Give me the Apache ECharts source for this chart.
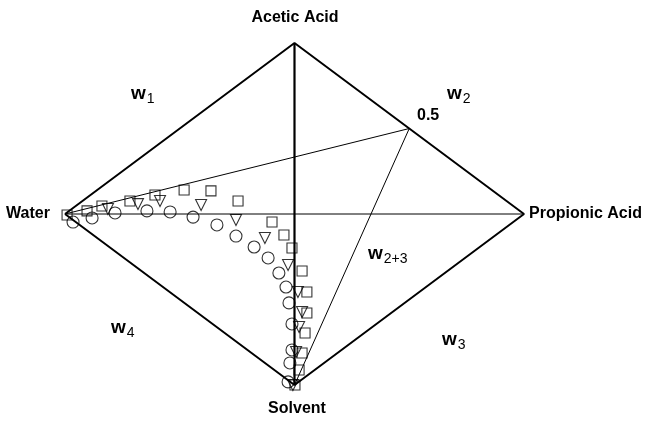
<!DOCTYPE html>
<html>
<head>
<meta charset="utf-8">
<script src="https://cdn.jsdelivr.net/npm/echarts@6/dist/echarts.min.js"></script>
<style>
  html, body { margin: 0; padding: 0; background: #fff; }
  #chart { width: 648px; height: 422px; }
</style>
</head>
<body>
<div id="chart"></div>
<script>
// diamond coords: Water (-1,0), Propionic (1,0), Acetic (0,1), Solvent (0,-1)
var vertices = {
  acetic: [0, 1],
  water: [-1, 0],
  propionic: [1, 0],
  solvent: [0, -1],
  half: [0.5, 0.5]
}

// squares
var squarePts = [
  [-0.991, -0.006], [-0.904, 0.018], [-0.839, 0.047], [-0.717, 0.076],
  [-0.608, 0.111], [-0.481, 0.140], [-0.364, 0.135], [-0.246, 0.076],
  [-0.098, -0.047], [-0.046, -0.123], [-0.011, -0.199], [0.033, -0.333],
  [0.054, -0.456], [0.054, -0.579], [0.046, -0.696], [0.033, -0.813],
  [0.020, -0.912], [0.002, -1.0]
]
// inverted triangles
var trianglePts = [
  [-0.813, 0.029], [-0.682, 0.058], [-0.586, 0.076], [-0.407, 0.053],
  [-0.255, -0.035], [-0.129, -0.140], [-0.028, -0.298], [0.015, -0.456],
  [0.033, -0.573], [0.020, -0.661], [0.007, -0.807], [-0.007, -1.0]
]
// circles
var circlePts = [
  [-0.965, -0.047], [-0.882, -0.023], [-0.782, 0.006], [-0.643, 0.018],
  [-0.542, 0.012], [-0.442, -0.018], [-0.338, -0.064], [-0.255, -0.129],
  [-0.176, -0.193], [-0.115, -0.257], [-0.068, -0.345], [-0.037, -0.427],
  [-0.024, -0.520], [-0.011, -0.643], [-0.011, -0.795], [-0.020, -0.871],
  [-0.028, -0.982]
]

var v = vertices
var chart = echarts.init(document.getElementById('chart'))

function seg (data, width) {
  return {
    type: 'line',
    data: data,
    symbol: 'none',
    silent: true,
    lineStyle: { color: '#000', width: width },
    z: 1
  }
}
function marks (data, symbol, size, rotate) {
  return {
    type: 'scatter',
    data: data,
    symbol: symbol,
    symbolSize: size,
    symbolRotate: rotate || 0,
    itemStyle: { color: 'rgba(255,255,255,0)', borderColor: '#000', borderWidth: 1.1 },
    z: 3
  }
}

var bold = 'bold 16px "Liberation Sans", Arial, sans-serif'
var rich = {
  w: { fontSize: 19, fontFamily: 'Liberation Sans', fontWeight: 'bold', color: '#000' },
  s: { fontSize: 14, fontFamily: 'Liberation Sans', color: '#000', padding: [11, 0, 0, 1] }
}
function label (x, y, txt, align) {
  return { type: 'text', x: x, y: y, style: { text: txt, font: bold, fill: '#000', align: align || 'left', verticalAlign: 'middle' } }
}
function wLabel (x, y, sub) {
  return { type: 'text', left: x, top: y, style: { text: '{w|w}{s|' + sub + '}', rich: rich } }
}

chart.setOption({
  animation: false,
  grid: { left: 65, top: 43, width: 459, height: 342 },
  xAxis: { type: 'value', min: -1, max: 1, show: false },
  yAxis: { type: 'value', min: -1, max: 1, show: false },
  series: [
    seg([v.water, v.acetic, v.propionic, v.solvent, v.water], 2),
    seg([v.acetic, v.solvent], 2.2),
    seg([v.water, v.propionic], 1),
    seg([v.water, v.half, v.solvent], 1),
    marks(squarePts, 'rect', 10),
    marks(trianglePts, 'triangle', 11, 180),
    marks(circlePts, 'circle', 12)
  ],
  graphic: [
    label(295, 18, 'Acetic Acid', 'center'),
    label(6, 214, 'Water'),
    label(529, 214, 'Propionic Acid'),
    label(297, 409, 'Solvent', 'center'),
    label(417, 116, '0.5'),
    wLabel(131, 84, '1'),
    wLabel(447, 84, '2'),
    wLabel(368, 244, '2+3'),
    wLabel(111, 318, '4'),
    wLabel(442, 330, '3')
  ]
})
</script>
</body>
</html>
